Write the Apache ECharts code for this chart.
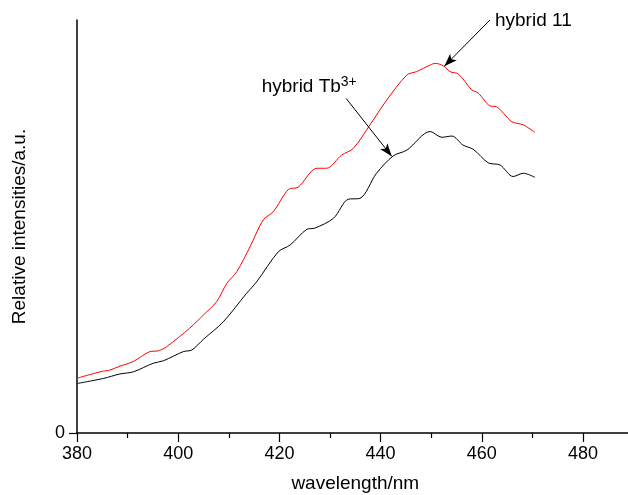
<!DOCTYPE html>
<html>
<head>
<meta charset="utf-8">
<script src="https://cdn.jsdelivr.net/npm/echarts@6/dist/echarts.min.js"></script>
<style>html,body{margin:0;padding:0;background:#fff}#c{width:628px;height:495px}</style>
</head>
<body>
<div id="c"></div>
<script>
// wavelength (nm) and relative intensity (a.u., 0-100)
const redX = [380.1,385.2,386.2,388.5,391.1,394.4,396.1,397.7,402.3,405.0,407.6,409.6,411.6,414.2,416.8,418.8,421.8,423.7,427.4,429.3,432.3,434.6,437.9,441.2,445.2,447.1,449.8,450.8,452.4,453.7,455.4,458.0,459.3,461.6,462.9,465.9,468.2,470.5];
const redY = [13.3,15.0,15.1,16.2,17.3,19.7,19.9,20.9,25.4,28.6,31.8,36.2,39.1,45.1,51.6,53.6,59.0,59.5,64.1,64.1,67.3,68.9,74.6,80.6,86.7,87.5,89.1,89.5,88.9,87.5,86.9,83.1,82.3,79.2,79.0,75.4,74.6,72.8];
const blackX = [380.1,385.2,388.5,391.1,395.1,397.1,401.0,402.7,405.0,408.9,413.5,415.5,419.8,422.1,425.4,427.0,430.7,433.6,435.9,439.2,442.5,445.2,449.8,452.1,454.1,456.3,458.3,461.3,463.6,466.2,468.2,470.5];
const blackY = [12.0,13.2,14.3,14.8,16.9,17.5,19.7,20.1,22.7,26.9,33.8,36.6,43.9,45.5,49.3,49.6,52.0,56.6,56.8,62.9,67.1,68.5,73.0,71.6,71.9,69.7,68.7,65.4,64.9,62.1,62.9,61.9];
const xTicks = [380,400,420,440,460,480];
const yTicks = [0];
const xTitle = 'wavelength/nm';
const yTitle = 'Relative intensities/a.u.';
const labelRed = 'hybrid 11';
const labelBlack = 'hybrid Tb';
const labelBlackSup = '3+';
// annotation arrows in data coords [start, tip]
const arrowRed = [[461.6,100],[452.6,88.8]];
const arrowBlack = [[433.2,81.0],[442.2,67.0]];
const textRedAnchor = [462.6,97.4];
const textBlackAnchor = [416.5,81.5];
const textSupAnchor = [432.1,83.2];
const xTitleAnchor = [435, 0];

const FONT = "'Liberation Sans', Arial, Helvetica, sans-serif";
const zip = (a,b)=>a.map((v,i)=>[v,b[i]]);
const chart = echarts.init(document.getElementById('c'), null, {renderer:'canvas'});
const arrowLine = (pts)=>({
  silent:true, symbol:['none','arrow'], symbolSize:[7,13],
  lineStyle:{color:'#000',width:1,type:'solid'}, label:{show:false},
  data:[[{coord:pts[0]},{coord:pts[1]}]], animation:false
});
chart.setOption({
  animation:false,
  backgroundColor:'#fff',
  grid:{left:77, top:20, width:607.2, height:413, containLabel:false, outerBoundsMode:'none'},
  xAxis:{
    type:'value', min:380, max:500, interval:20,
    axisLine:{show:true, onZero:false, lineStyle:{color:'#000', width:1.5}},
    axisTick:{show:true, inside:false, length:9, lineStyle:{color:'#000', width:1.2}},
    minorTick:{show:true, splitNumber:2, length:5, lineStyle:{color:'#000', width:1.2}},
    splitLine:{show:false},
    axisLabel:{color:'#000', fontSize:18, fontFamily:FONT, margin:12,
      formatter:(v)=> xTicks.includes(v) ? String(v) : ''}
  },
  yAxis:{
    type:'value', min:0, max:100,
    name:yTitle, nameLocation:'middle', nameGap:48, nameRotate:90,
    nameTextStyle:{color:'#000', fontSize:19, fontFamily:FONT},
    axisLine:{show:true, lineStyle:{color:'#000', width:1.5}},
    axisTick:{show:true, length:8, customValues:yTicks, lineStyle:{color:'#000', width:1.2}},
    splitLine:{show:false},
    axisLabel:{color:'#000', fontSize:18, fontFamily:FONT, margin:12, customValues:yTicks}
  },
  series:[
    {type:'line', data:zip(redX,redY), smooth:0.3, showSymbol:false, symbol:'none',
     lineStyle:{color:'#ff0000', width:1}, markLine:arrowLine(arrowRed), z:3},
    {type:'line', data:zip(blackX,blackY), smooth:0.3, showSymbol:false, symbol:'none',
     lineStyle:{color:'#000', width:1}, markLine:arrowLine(arrowBlack), z:3}
  ]
});
const t = chart.convertToPixel({gridIndex:0}, xTitleAnchor);
const p1 = chart.convertToPixel({gridIndex:0}, textRedAnchor);
const p2 = chart.convertToPixel({gridIndex:0}, textBlackAnchor);
const p3 = chart.convertToPixel({gridIndex:0}, textSupAnchor);
chart.setOption({graphic:[
  {type:'text', x:t[0], y:t[1]+41, style:{text:xTitle, fill:'#000', font:'19px '+FONT, textAlign:'center', textVerticalAlign:'top'}},
  {type:'text', x:p1[0], y:p1[1], style:{text:labelRed, fill:'#000', font:'19px '+FONT, textAlign:'left', textVerticalAlign:'bottom'}},
  {type:'text', x:p2[0], y:p2[1], style:{text:labelBlack, fill:'#000', font:'19px '+FONT, textAlign:'left', textVerticalAlign:'bottom'}},
  {type:'text', x:p3[0], y:p3[1], style:{text:labelBlackSup, fill:'#000', font:'14px '+FONT, textAlign:'left', textVerticalAlign:'bottom'}}
]});
</script>
</body>
</html>
